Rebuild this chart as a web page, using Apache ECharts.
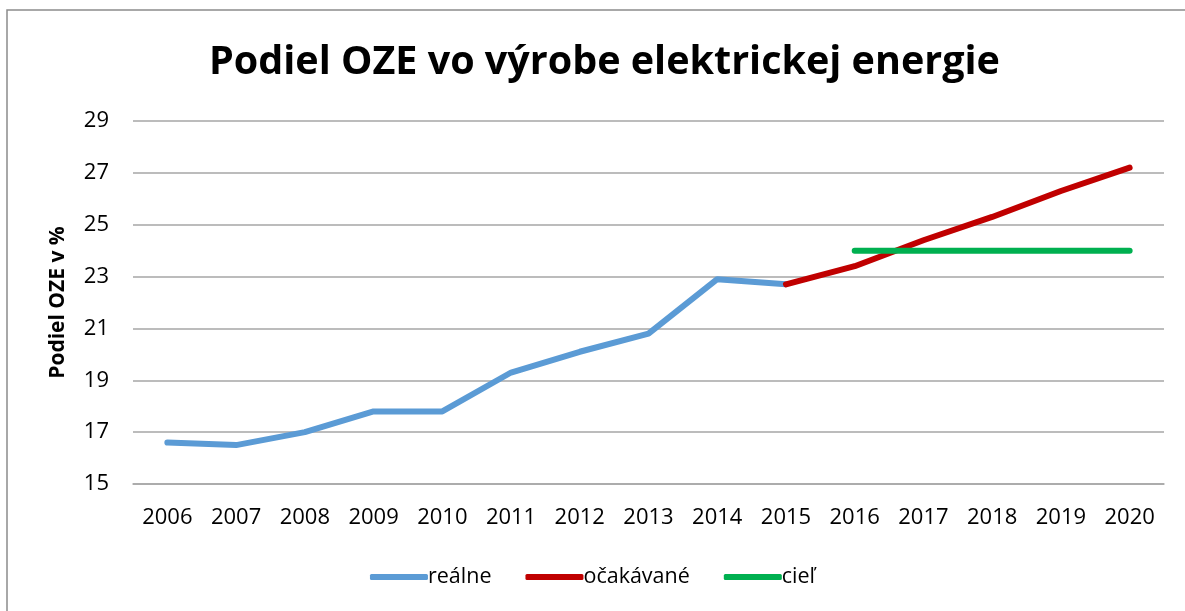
<!DOCTYPE html>
<html>
<head>
<meta charset="utf-8">
<script src="https://cdn.jsdelivr.net/npm/echarts@6/dist/echarts.min.js"></script>
<style>
  html, body { margin: 0; padding: 0; background: #fff; }
  #container { width: 1185px; height: 611px; }
</style>
</head>
<body>
<div id="container"></div>
<script>
// roky na osi x
var years = ['2006', '2007', '2008', '2009', '2010', '2011', '2012', '2013', '2014', '2015', '2016', '2017', '2018', '2019', '2020'];
// reálne hodnoty (2006-2015)
var realne = [16.6, 16.5, 17.0, 17.8, 17.8, 19.3, 20.1, 20.8, 22.9, 22.7, null, null, null, null, null];
// očakávané (2015-2020)
var ocakavane = [null, null, null, null, null, null, null, null, null, 22.7, 23.4, 24.4, 25.3, 26.3, 27.2];
// cieľ (2016-2020)
var ciel = [null, null, null, null, null, null, null, null, null, null, 24, 24, 24, 24, 24];

var font = '"Open Sans", "Noto Sans", sans-serif';

var dom = document.getElementById('container');
var myChart = echarts.init(dom);
var option = {
    backgroundColor: '#fff',
    animation: false,
    // rámček okolo grafu
    graphic: [{
        type: 'rect',
        shape: { x: 7, y: 10, width: 1250, height: 700 },
        style: { fill: 'none', stroke: '#8c8c8c', lineWidth: 1.5 },
        silent: true
    }],
    title: {
        text: 'Podiel OZE vo výrobe elektrickej energie',
        left: 204,
        top: 38,
        textStyle: { fontFamily: font, fontWeight: 'bold', fontSize: 39.5, color: '#000' }
    },
    legend: {
        bottom: 18,
        left: 'center',
        itemWidth: 58,
        itemHeight: 6,
        itemGap: 34,
        icon: 'roundRect',
        textStyle: { fontFamily: font, fontSize: 21.5, color: '#000', padding: [0, 0, 0, -5] },
        data: ['reálne', 'očakávané', 'cieľ']
    },
    grid: { left: 133, right: 21, top: 121, bottom: 127 },
    xAxis: {
        type: 'category',
        data: years,
        boundaryGap: true,
        axisLine: { lineStyle: { color: '#a6a6a6', width: 1.5 } },
        axisTick: { show: false },
        axisLabel: { fontFamily: font, fontSize: 22, color: '#000', margin: 23 }
    },
    yAxis: {
        type: 'value',
        min: 15,
        max: 29,
        interval: 2,
        name: 'Podiel OZE v %',
        nameLocation: 'middle',
        nameGap: 64,
        nameTextStyle: { fontFamily: font, fontWeight: 'bold', fontSize: 21, color: '#000' },
        axisLine: { show: false },
        axisTick: { show: false },
        splitLine: { lineStyle: { color: '#a6a6a6', width: 1.5 } },
        axisLabel: { fontFamily: font, fontSize: 22, color: '#000', margin: 24 }
    },
    series: [{
        name: 'reálne',
        type: 'line',
        data: realne,
        color: '#5b9bd5',
        symbol: 'none',
        lineStyle: { width: 6, cap: 'round', join: 'round' }
    }, {
        name: 'očakávané',
        type: 'line',
        data: ocakavane,
        color: '#c00000',
        symbol: 'none',
        lineStyle: { width: 6, cap: 'round', join: 'round' }
    }, {
        name: 'cieľ',
        type: 'line',
        data: ciel,
        color: '#00b050',
        symbol: 'none',
        lineStyle: { width: 6, cap: 'round', join: 'round' }
    }]
};
myChart.setOption(option);
</script>
</body>
</html>
